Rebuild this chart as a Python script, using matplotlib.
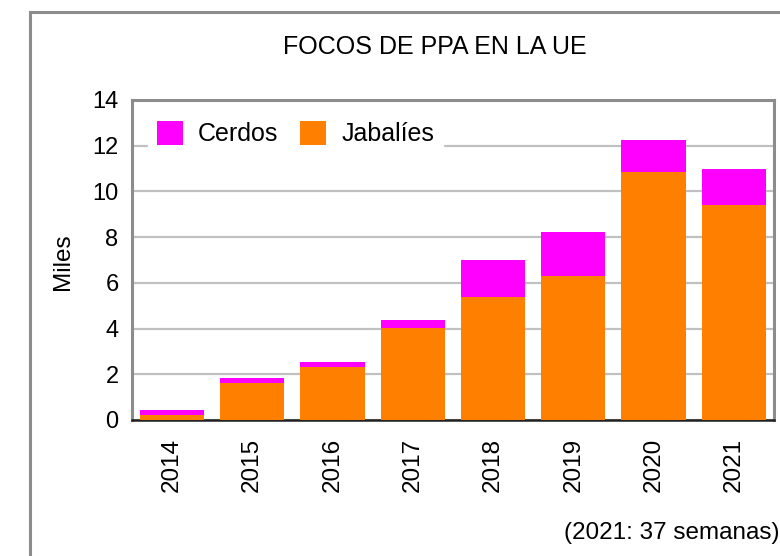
import matplotlib
matplotlib.use("Agg")
import matplotlib.pyplot as plt
from matplotlib.patches import Rectangle
import numpy as np

plt.rcParams['font.family'] = ['Liberation Sans', 'DejaVu Sans']

years = ['2014', '2015', '2016', '2017', '2018', '2019', '2020', '2021']
jabalies = [0.22, 1.62, 2.31, 4.02, 5.39, 6.30, 10.87, 9.39]
cerdos = [0.22, 0.22, 0.22, 0.35, 1.59, 1.92, 1.37, 1.59]
yticks = [0, 2, 4, 6, 8, 10, 12, 14]

W, H = 780, 556
fig = plt.figure(figsize=(7.8, 5.56), dpi=100)
fig.patch.set_facecolor('white')

# outer frame (partially cropped)
fig.patches.append(Rectangle((30 / W, -0.2), 1.0, (H - 12) / H + 0.2,
                             transform=fig.transFigure, fill=False,
                             edgecolor='#8c8c8c', linewidth=2.2, zorder=0))

ax = fig.add_axes([131.7 / W, 1 - 420 / H, (774 - 131.7) / W, (420 - 100) / H])
x = np.arange(len(years))
ax.bar(x, jabalies, width=0.8, color='#FF8000', label='Jabalíes', zorder=3)
ax.bar(x, cerdos, width=0.8, bottom=jabalies, color='#FF00FF', label='Cerdos', zorder=3)

ax.set_xlim(-0.5, len(years) - 0.5)
ax.set_ylim(0, 14)
ax.set_yticks(yticks)
ax.set_yticklabels([str(v) for v in yticks], fontsize=17)
ax.set_xticks(x)
ax.set_xticklabels(years, rotation=90, fontsize=17.5)
ax.tick_params(axis='x', length=0, pad=13)
ax.tick_params(axis='y', length=0, pad=9.5)
ax.yaxis.grid(True, color='#c0c0c0', linewidth=1.6, zorder=0)
ax.set_axisbelow(True)

for s in ['left', 'top', 'right']:
    ax.spines[s].set_color('#8c8c8c')
    ax.spines[s].set_linewidth(2.2)
ax.spines['bottom'].set_color('#202020')
ax.spines['bottom'].set_linewidth(1.8)

fig.text(63 / W, 1 - 262 / H, 'Miles', rotation=90, ha='center', va='center',
         fontsize=17.5)

handles, labels = ax.get_legend_handles_labels()
leg = fig.legend(handles[::-1], labels[::-1], loc='upper left',
                 bbox_to_anchor=(148 / W, 1 - 112 / H), ncol=2, frameon=True,
                 fontsize=18, handlelength=1.04, handleheight=1.12,
                 columnspacing=0.88, handletextpad=0.61, borderpad=0.35,
                 fancybox=False, borderaxespad=0)
leg.get_frame().set_edgecolor('white')
leg.get_frame().set_facecolor('white')
leg.get_frame().set_alpha(1)

fig.text(435 / W, 1 - 47 / H, 'FOCOS DE PPA EN LA UE', ha='center', va='center',
         fontsize=18)
fig.text(564 / W, 1 - 533 / H, '(2021: 37 semanas)', ha='left', va='center',
         fontsize=17.5)

fig.savefig('out.png', dpi=100)
